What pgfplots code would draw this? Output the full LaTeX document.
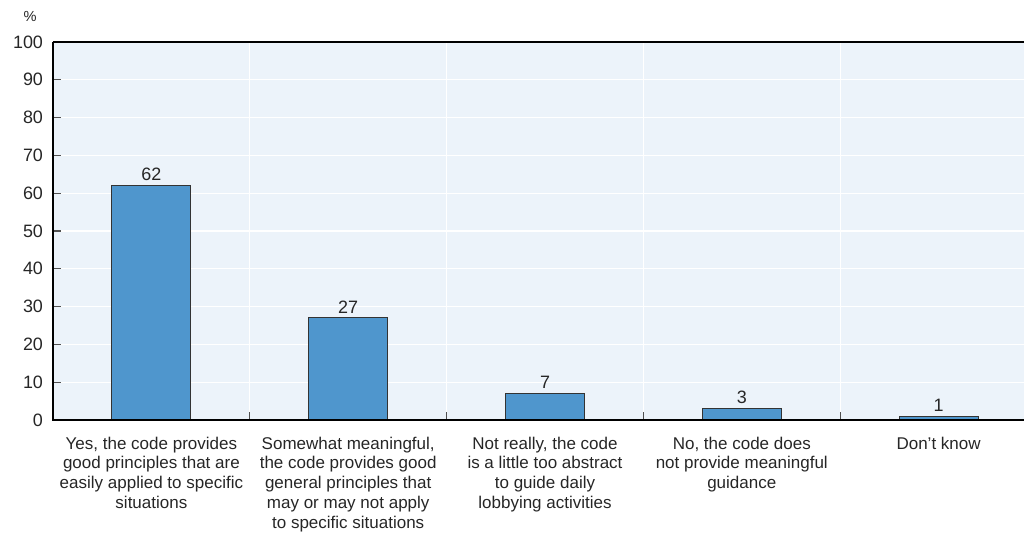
\documentclass[border=0pt]{standalone}
\usepackage{fontspec}
\setmainfont{Liberation Sans}
\usepackage{pgfplots}
\pgfplotsset{compat=1.18}
\definecolor{barblue}{RGB}{79,150,205}
\definecolor{plotbg}{RGB}{236,243,250}
\definecolor{tickgray}{RGB}{80,80,80}

\begin{document}
\begin{tikzpicture}
\begin{axis}[
  scale only axis,
  width=728.25bp, height=283.5bp,
  at={(0,0)}, anchor=south west,
  ymin=0, ymax=100,
  ytick={0,10,...,100},
  xmin=-0.5, xmax=4.434,
  xtick={0,1,2,3,4},
  xticklabels={
    {Yes, the code provides\\good principles that are\\easily applied to specific\\situations},
    {Somewhat meaningful,\\the code provides good\\general principles that\\may or may not apply\\to specific situations},
    {Not really, the code\\is a little too abstract\\to guide daily\\lobbying activities},
    {No, the code does\\not provide meaningful\\guidance},
    {Don’t know}},
  x tick label style={align=center, font=\fontsize{12.8}{15}\selectfont, text=black!85, yshift=-3bp},
  y tick label style={font=\fontsize{13.5}{15}\selectfont, text=black!85, xshift=-4bp},
  /pgf/number format/assume math mode=true,
  xtick pos=bottom, ytick pos=left,
  major x tick style={draw=none},
  extra x ticks={0.5,1.5,2.5,3.5},
  extra x tick labels={},
  extra x tick style={grid=major},
  major tick length=6bp,
  tick align=inside,
  ytick style={draw=tickgray, line width=0.8bp},
  ymajorgrids,
  grid style={draw=white, line width=1bp},
  axis background/.style={fill=plotbg},
  axis line style={draw=none},
  ybar, bar width=0.402,
  nodes near coords,
  every node near coord/.append style={font=\fontsize{13.5}{15}\selectfont, text=black!85},
  clip=false,
]
\addplot[fill=barblue, draw=black!80, line width=0.7bp]
  coordinates {(0,62) (1,27) (2,7) (3,3) (4,1)};
% category separators: short ticks rising from the baseline
\pgfplotsinvokeforeach{0.5,1.5,2.5,3.5}{
  \draw[tickgray, line width=0.9bp] (axis cs:#1,0) -- (axis cs:#1,2.1);
}
\draw[black, line width=1.6bp] (rel axis cs:0,1) -- (rel axis cs:1,1);
\draw[black, line width=1.6bp] (rel axis cs:0,1) -- (rel axis cs:0,0) -- (rel axis cs:1,0);
\node[anchor=south east, inner sep=0pt, xshift=-12bp, yshift=15bp, font=\fontsize{11}{13}\selectfont, text=black!85] at (rel axis cs:0,1) {\%};
\end{axis}
\pgfresetboundingbox
\useasboundingbox (-39.75bp,-93.75bp) rectangle (728.25bp,315bp);
\end{tikzpicture}
\end{document}
